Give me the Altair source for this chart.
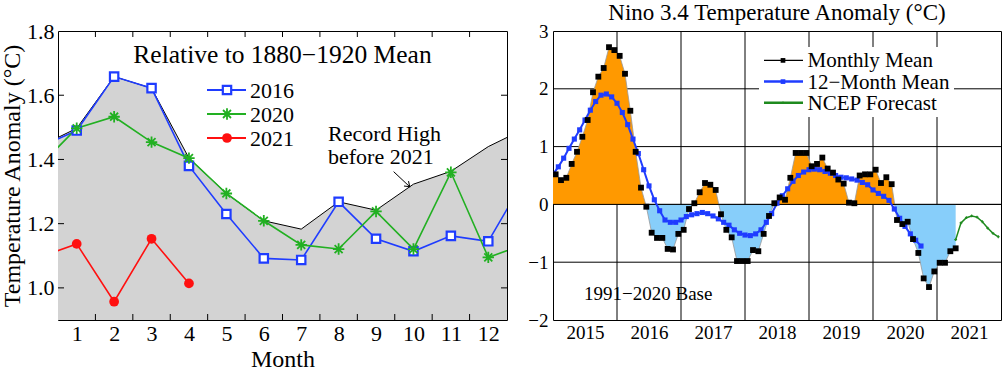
import altair as alt
import pandas as pd
import numpy as np

FONT = "Liberation Serif"

# ---------------- left panel data ----------------
# month 0 = previous December, month 13 = following January (lines run off the frame)
months = list(range(0, 14))
anom_2016 = [1.438, 1.490, 1.658, 1.622, 1.380, 1.230, 1.092, 1.087, 1.268, 1.153, 1.114, 1.162, 1.145, 1.345]
anom_2020 = [1.379, 1.497, 1.533, 1.454, 1.404, 1.294, 1.209, 1.134, 1.121, 1.238, 1.121, 1.360, 1.095, 1.137]
months_2021 = [0, 1, 2, 3, 4]
anom_2021 = [1.095, 1.137, 0.957, 1.153, 1.014]
record_high = [1.440, 1.497, 1.658, 1.622, 1.404, 1.294, 1.209, 1.183, 1.268, 1.242, 1.323, 1.363, 1.440, 1.497]
month_labels = list(range(1, 13))
month_ticks = [1.5, 2.5, 3.5, 4.5, 5.5, 6.5, 7.5, 8.5, 9.5, 10.5, 11.5]
left_y_labels = [1.0, 1.2, 1.4, 1.6, 1.8]
left_y_ticks = [1.0, 1.2, 1.4, 1.6]
left_series = ["2016", "2020", "2021"]
left_colors = ["#1f3cff", "#22b022", "#ff1010"]
arrow_x = [9.47, 9.90]
arrow_y = [1.362, 1.315]

# ---------------- right panel data ----------------
nino_monthly = [
    0.52, 0.42, 0.46, 0.70, 0.91, 1.17, 1.46, 1.94, 2.21, 2.36, 2.72, 2.67,
    2.57, 2.26, 1.62, 0.91, 0.29, -0.04, -0.49, -0.58, -0.58, -0.77, -0.78, -0.51,
    -0.44, -0.08, 0.02, 0.21, 0.37, 0.34, 0.25, -0.17, -0.44, -0.57, -0.98, -0.98,
    -0.98, -0.79, -0.81, -0.51, -0.20, 0.02, 0.12, 0.08, 0.46, 0.89, 0.89, 0.89,
    0.66, 0.70, 0.81, 0.62, 0.55, 0.43, 0.36, 0.03, 0.02, 0.50, 0.52, 0.52,
    0.60, 0.37, 0.47, 0.35, -0.27, -0.34, -0.30, -0.60, -0.84, -1.28, -1.43, -1.16,
    -1.01, -1.01, -0.81, -0.76,
]
nino_dec2014 = 0.43  # edge of the fill at the left frame
nino_12mo = [
    0.52, 0.65, 0.80, 0.97, 1.13, 1.29, 1.46, 1.63, 1.78, 1.89,
    1.91, 1.86, 1.75, 1.59, 1.38, 1.13, 0.88, 0.60, 0.32, 0.08,
    -0.11, -0.27, -0.31, -0.31, -0.27, -0.21, -0.18, -0.16, -0.14, -0.16,
    -0.20, -0.25, -0.31, -0.36, -0.44, -0.50, -0.53, -0.54, -0.51, -0.44,
    -0.31, -0.16, 0.02, 0.15, 0.27, 0.40, 0.50, 0.56, 0.60, 0.61,
    0.60, 0.57, 0.54, 0.50, 0.47, 0.46, 0.44, 0.42, 0.38, 0.34,
    0.25, 0.19, 0.14, 0.07, -0.08, -0.24, -0.38, -0.51, -0.62, -0.72,
]
ncep_forecast = [-0.61, -0.32, -0.23, -0.20, -0.22, -0.30, -0.41, -0.50, -0.56]
forecast_start_index = 75
year_lines = [2016, 2017, 2018, 2019, 2020, 2021]
year_labels = [2015.5, 2016.5, 2017.5, 2018.5, 2019.5, 2020.5, 2021.5]
right_y_labels = [-2, -1, 0, 1, 2, 3]
right_y_lines = [-1, 0, 1, 2]
right_legend = ["Monthly Mean", "12\u2212Month Mean", "NCEP Forecast"]

BLUE = "#1f3cff"
ORANGE = "#ff9900"
LIGHTBLUE = "#87cefa"
DKGREEN = "#1e8a1e"

W1, W2, H = 449, 448, 289

# ================= LEFT CHART =================
xL = alt.X("month:Q", scale=alt.Scale(domain=[0.5, 12.5], nice=False, zero=False),
           axis=alt.Axis(values=month_labels, title="Month", tickSize=0, labelPadding=3,
                         domain=False, grid=False, labelFontSize=22, titleFontSize=24,
                         titlePadding=3, labelFlush=False, labelFont=FONT, titleFont=FONT,
                         titleFontWeight="normal", labelColor="black", titleColor="black"))
yL = alt.Y("value:Q", scale=alt.Scale(domain=[0.9, 1.8], nice=False, zero=False),
           axis=alt.Axis(values=left_y_labels, format=".1f", title="Temperature Anomaly (\u00b0C)",
                         tickSize=0, labelPadding=4, domain=False, grid=False, labelFontSize=22,
                         titleFontSize=24, titlePadding=2, labelFlush=False, labelFont=FONT,
                         titleFont=FONT, titleFontWeight="normal", labelColor="black",
                         titleColor="black"))

df_rec = pd.DataFrame({"month": months, "value": record_high})
df_lines = pd.concat([
    pd.DataFrame({"month": months, "value": anom_2016, "series": "2016"}),
    pd.DataFrame({"month": months, "value": anom_2020, "series": "2020"}),
    pd.DataFrame({"month": months_2021, "value": anom_2021, "series": "2021"}),
])
df_pts = df_lines[(df_lines.month >= 1) & (df_lines.month <= 12)]

color_scale = alt.Scale(domain=left_series, range=left_colors)

area = alt.Chart(df_rec).mark_area(color="#d3d3d3", clip=True).encode(x=xL, y=yL, y2=alt.datum(0.9))
rec_line = alt.Chart(df_rec).mark_line(color="black", strokeWidth=1, clip=True).encode(x=xL, y=yL)

df_yt = pd.DataFrame({"value": left_y_ticks})
df_xt = pd.DataFrame({"month": month_ticks})
ytick_l = alt.Chart(df_yt).mark_rule(color="black", strokeWidth=1).encode(y=yL, x=alt.value(0), x2=alt.value(6))
ytick_r = alt.Chart(df_yt).mark_rule(color="black", strokeWidth=1).encode(y=yL, x=alt.value(W1 - 6), x2=alt.value(W1))
xtick_b = alt.Chart(df_xt).mark_rule(color="black", strokeWidth=1).encode(x=xL, y=alt.value(H - 6), y2=alt.value(H))
xtick_t = alt.Chart(df_xt).mark_rule(color="black", strokeWidth=1).encode(x=xL, y=alt.value(0), y2=alt.value(6))

series_lines = alt.Chart(df_lines).mark_line(strokeWidth=1.6, clip=True).encode(
    x=xL, y=yL, detail="series:N",
    color=alt.Color("series:N", scale=color_scale, legend=None))

ASTER = "M-1,0L1,0M0,-1L0,1M-0.7,-0.7L0.7,0.7M-0.7,0.7L0.7,-0.7"

p2016 = alt.Chart(df_pts[df_pts.series == "2016"]).mark_point(
    shape="square", filled=False, fill="white", fillOpacity=1, stroke=left_colors[0],
    strokeWidth=2.2, size=70, opacity=1).encode(x=xL, y=yL)
p2020 = alt.Chart(df_pts[df_pts.series == "2020"]).mark_point(
    shape=ASTER, filled=False, stroke=left_colors[1], strokeWidth=1.8, size=130, opacity=1).encode(x=xL, y=yL)
p2021 = alt.Chart(df_pts[df_pts.series == "2021"]).mark_point(
    shape="circle", filled=True, color=left_colors[2], size=95, opacity=1).encode(x=xL, y=yL)

left_layers = [area, rec_line, ytick_l, ytick_r, xtick_b, xtick_t, series_lines, p2016, p2020, p2021]

# legend (left)
marker_specs = [
    dict(shape="square", filled=False, fill="white", fillOpacity=1, stroke=left_colors[0], strokeWidth=2.2, size=70, opacity=1),
    dict(shape=ASTER, filled=False, stroke=left_colors[1], strokeWidth=1.8, size=130, opacity=1),
    dict(shape="circle", filled=True, color=left_colors[2], size=95, opacity=1),
]
for i, (lab, col) in enumerate(zip(left_series, left_colors)):
    d = pd.DataFrame({"label": [lab]})
    yy = 59 + 24 * i
    left_layers.append(alt.Chart(d).mark_rule(color=col, strokeWidth=2).encode(
        x=alt.value(149), x2=alt.value(188), y=alt.value(yy)))
    left_layers.append(alt.Chart(d).mark_point(**marker_specs[i]).encode(
        x=alt.value(169), y=alt.value(yy)))
    left_layers.append(alt.Chart(d).mark_text(font=FONT, fontSize=22, align="left", baseline="middle",
                                              color="black").encode(
        x=alt.value(192), y=alt.value(yy + 1), text="label:N"))

d_title = pd.DataFrame({"label": ["Relative to 1880\u22121920 Mean"]})
left_layers.append(alt.Chart(d_title).mark_text(font=FONT, fontSize=25.5, align="center", baseline="middle",
                                                color="black").encode(
    x=alt.value(W1 / 2), y=alt.value(24), text="label:N"))
d_rec_txt1 = pd.DataFrame({"label": ["Record High"]})
d_rec_txt2 = pd.DataFrame({"label": ["before 2021"]})
left_layers.append(alt.Chart(d_rec_txt1).mark_text(font=FONT, fontSize=22, align="left", baseline="alphabetic",
                                                   color="black").encode(
    x=alt.value(270), y=alt.value(110), text="label:N"))
left_layers.append(alt.Chart(d_rec_txt2).mark_text(font=FONT, fontSize=22, align="left", baseline="alphabetic",
                                                   color="black").encode(
    x=alt.value(270), y=alt.value(133), text="label:N"))

df_arrow = pd.DataFrame({"month": [arrow_x[0]], "value": [arrow_y[0]], "m2": [arrow_x[1]], "v2": [arrow_y[1]]})
left_layers.append(alt.Chart(df_arrow).mark_rule(color="black", strokeWidth=1).encode(
    x=xL, y=yL, x2="m2:Q", y2="v2:Q"))
df_head = pd.DataFrame({"month": [arrow_x[1]], "value": [arrow_y[1]]})
left_layers.append(alt.Chart(df_head).mark_point(shape="M-0.7,-1L0,0L0.7,-1", filled=False, stroke="black",
                                                 strokeWidth=1, size=90, angle=313, opacity=1).encode(x=xL, y=yL))

left = alt.layer(*left_layers).properties(
    width=W1, height=H,
    title=alt.TitleParams(" ", fontSize=23, font=FONT, fontWeight="normal", offset=-4.5, anchor="middle"))

# ================= RIGHT CHART =================
xR = alt.X("t:Q", scale=alt.Scale(domain=[2015, 2022], nice=False, zero=False),
           axis=alt.Axis(values=year_labels, labelExpr="floor(datum.value)", tickSize=0, labelPadding=3,
                         domain=False, grid=False, labelFontSize=19, title=None, labelFlush=False,
                         labelFont=FONT, labelColor="black"))
yR = alt.Y("v:Q", scale=alt.Scale(domain=[-2, 3], nice=False, zero=False),
           axis=alt.Axis(values=right_y_labels, format="d", tickSize=0, labelPadding=5, domain=False,
                         grid=False, labelFontSize=19, title=None, labelFlush=False,
                         labelFont=FONT, labelColor="black"))

t_month = [2015 + (i + 0.5) / 12 for i in range(len(nino_monthly))]
t_mean = [2015 + k / 12 for k in range(len(nino_12mo))]
t_fc = [2015 + (forecast_start_index + j + 0.5) / 12 for j in range(len(ncep_forecast))]

# fill polygon: monthly series, split at zero crossings
ts = [2015 - 0.5 / 12] + t_month
vs = [nino_dec2014] + nino_monthly
aug_t, aug_v = [], []
for j in range(len(vs)):
    if j > 0 and vs[j - 1] * vs[j] < 0:
        f = vs[j - 1] / (vs[j - 1] - vs[j])
        aug_t.append(ts[j - 1] + f * (ts[j] - ts[j - 1]))
        aug_v.append(0.0)
    aug_t.append(ts[j])
    aug_v.append(vs[j])
df_pos = pd.DataFrame({"t": aug_t, "v": [max(v, 0.0) for v in aug_v]})
df_neg = pd.DataFrame({"t": aug_t, "v": [min(v, 0.0) for v in aug_v]})
df_fill_edge = pd.DataFrame({"t": aug_t, "v": aug_v})

df_month = pd.DataFrame({"t": t_month, "v": nino_monthly})
df_mean = pd.DataFrame({"t": t_mean, "v": nino_12mo})
df_fc = pd.DataFrame({"t": t_fc, "v": ncep_forecast})

df_vl = pd.DataFrame({"t": year_lines})
df_hl = pd.DataFrame({"v": right_y_lines})

r_layers = [
    alt.Chart(df_vl).mark_rule(color="black", strokeWidth=1).encode(x=xR),
    alt.Chart(df_hl).mark_rule(color="black", strokeWidth=1).encode(y=yR),
    alt.Chart(pd.DataFrame({"a": [1]})).mark_rect(color="white", opacity=1).encode(
        x=alt.value(206), x2=alt.value(401), y=alt.value(16), y2=alt.value(86)),
    alt.Chart(df_pos).mark_area(color=ORANGE, clip=True, opacity=1).encode(x=xR, y=yR, y2=alt.datum(0)),
    alt.Chart(df_neg).mark_area(color=LIGHTBLUE, clip=True, opacity=1).encode(x=xR, y=yR, y2=alt.datum(0)),
    alt.Chart(df_fill_edge).mark_line(color="#999999", strokeWidth=0.8, clip=True).encode(x=xR, y=yR),
    alt.Chart(pd.DataFrame({"v": [0]})).mark_rule(color="black", strokeWidth=1).encode(y=yR),
    alt.Chart(df_mean).mark_line(color=BLUE, strokeWidth=2, clip=True).encode(x=xR, y=yR),
    alt.Chart(df_mean).mark_point(shape="square", filled=True, color=BLUE, size=26, opacity=1, clip=True).encode(x=xR, y=yR),
    alt.Chart(df_month).mark_point(shape="square", filled=True, color="black", size=34, opacity=1, clip=True).encode(x=xR, y=yR),
    alt.Chart(df_fc).mark_line(color=DKGREEN, strokeWidth=1.5, clip=True).encode(x=xR, y=yR),
    alt.Chart(df_fc).mark_point(shape="cross", filled=True, color=DKGREEN, size=8, opacity=1, clip=True).encode(x=xR, y=yR),
]

leg_colors = ["black", BLUE, DKGREEN]
leg_widths = [1.2, 2.5, 2.5]
leg_ys = [29.4, 50.6, 71.8]
for i, lab in enumerate(right_legend):
    d = pd.DataFrame({"label": [lab]})
    r_layers.append(alt.Chart(d).mark_rule(color=leg_colors[i], strokeWidth=leg_widths[i]).encode(
        x=alt.value(211), x2=alt.value(250), y=alt.value(leg_ys[i])))
    if i < 2:
        r_layers.append(alt.Chart(d).mark_point(shape="square", filled=True, color=leg_colors[i], size=22,
                                                opacity=1).encode(x=alt.value(230), y=alt.value(leg_ys[i])))
    else:
        r_layers.append(alt.Chart(d).mark_point(shape="cross", filled=True, color=leg_colors[i], size=6,
                                                opacity=1).encode(x=alt.value(230), y=alt.value(leg_ys[i])))
    r_layers.append(alt.Chart(d).mark_text(font=FONT, fontSize=21, align="left", baseline="middle",
                                           color="black").encode(
        x=alt.value(254.5), y=alt.value(leg_ys[i] + 1), text="label:N"))

r_layers.append(alt.Chart(pd.DataFrame({"label": ["1991\u22122020 Base"]})).mark_text(
    font=FONT, fontSize=19, align="left", baseline="middle", color="black").encode(
    x=alt.value(31), y=alt.value(263), text="label:N"))

right = alt.layer(*r_layers).properties(
    width=W2, height=H,
    title=alt.TitleParams("Nino 3.4 Temperature Anomaly (\u00b0C)", fontSize=23, font=FONT,
                          fontWeight="normal", offset=-3, anchor="middle", color="black"))

chart = alt.hconcat(left, right, spacing=19).properties(
    padding={"left": -1, "top": 1, "right": 0, "bottom": 0},
    background="white",
).configure_view(stroke="black", strokeWidth=1)

chart.save("out.html", embed_options={"renderer": "svg", "actions": False})
